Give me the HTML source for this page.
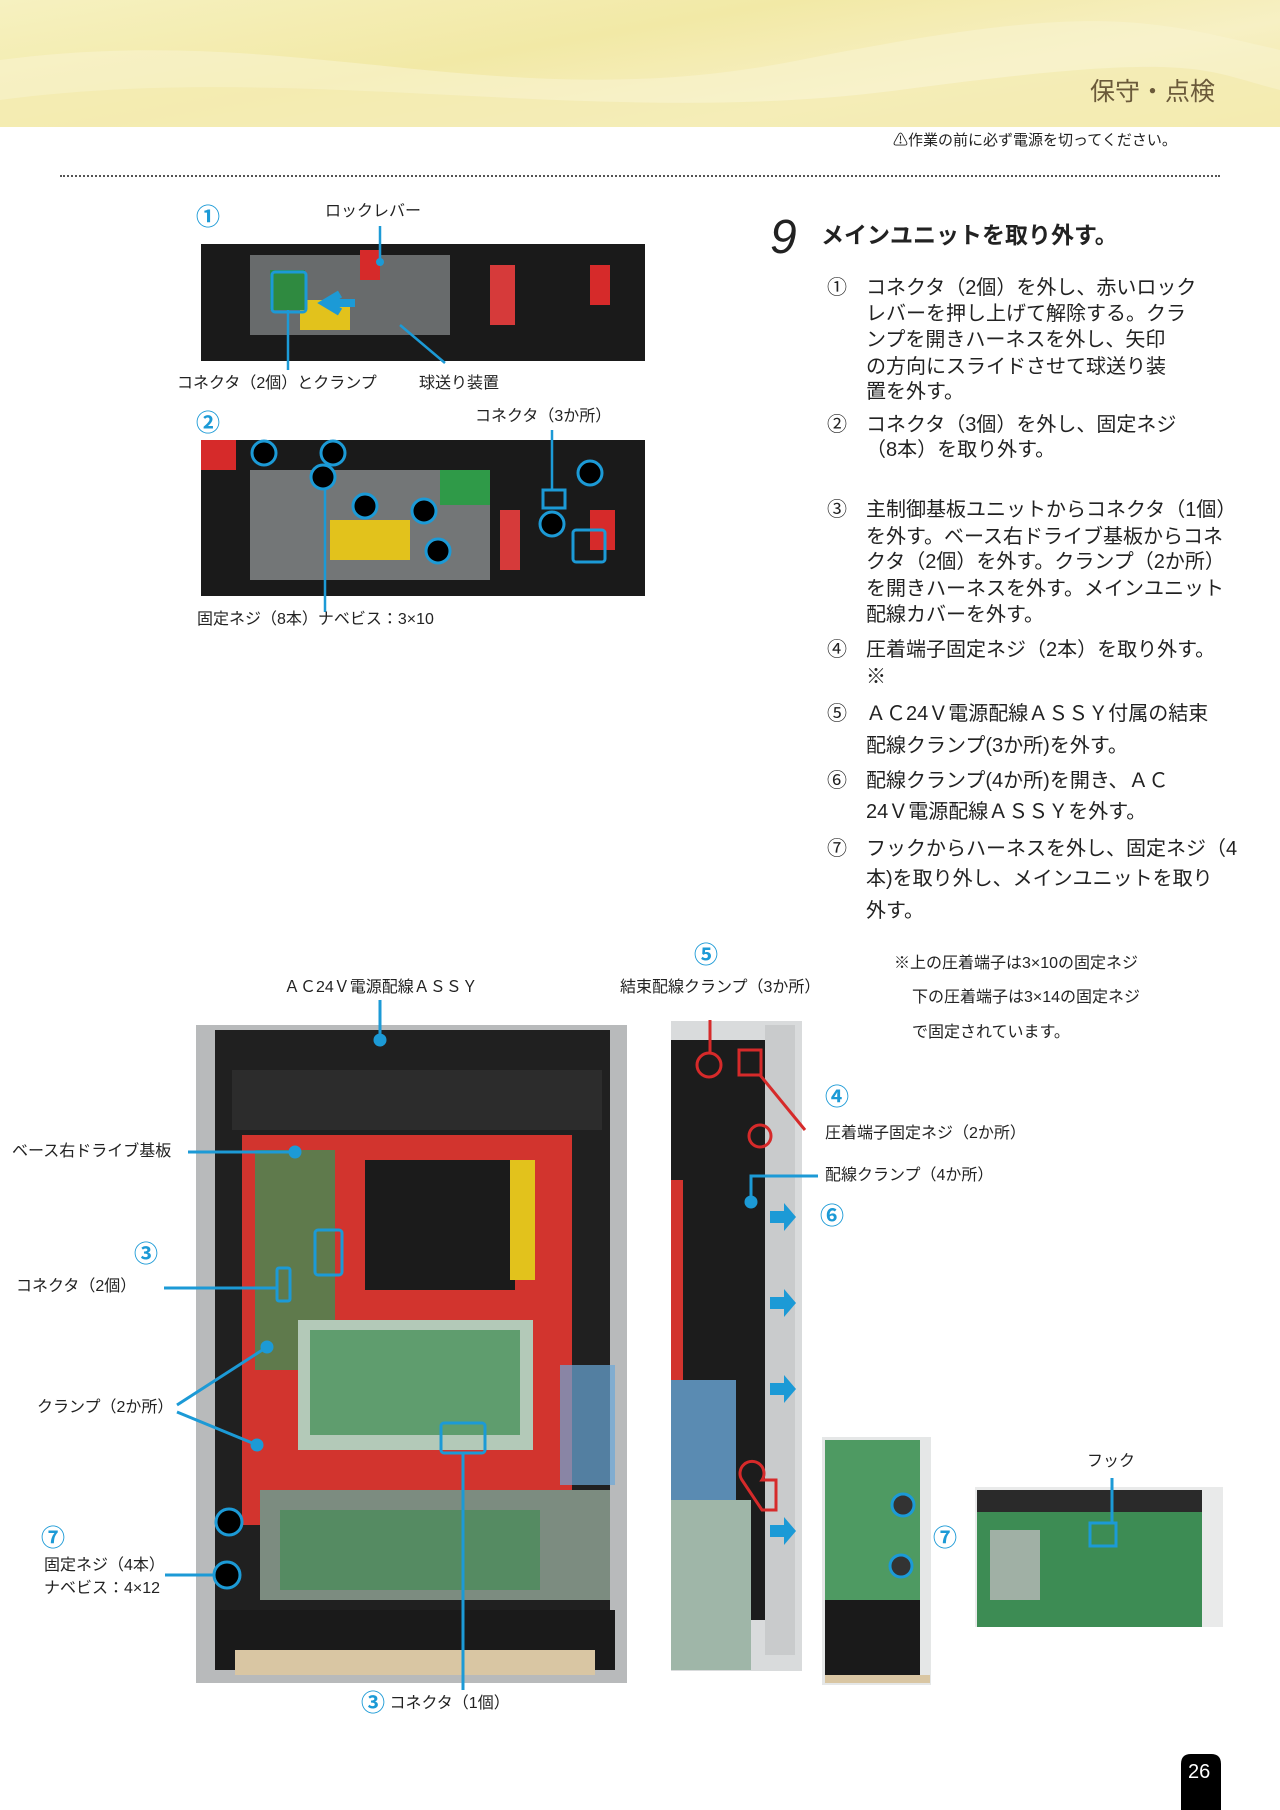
<!DOCTYPE html>
<html><head><meta charset="utf-8"><style>
body{margin:0;width:1280px;height:1810px;position:relative;background:#fff;font-family:"Liberation Sans","Noto Sans CJK JP",sans-serif;color:#222;overflow:hidden}
.a{position:absolute;white-space:nowrap;line-height:1}
.l{font-size:16px}
.t{font-size:20px;position:absolute;white-space:nowrap;line-height:1;left:866px}
.n{font-size:20px;position:absolute;line-height:1;left:827px}
.c{color:#1c9ad6;font-weight:bold;font-size:24px}
</style></head><body>
<div style="position:absolute;left:0;top:0;width:1280px;height:127px;background:linear-gradient(170deg,#f6f1c0 0%,#f2e9a6 40%,#f7f0c4 70%,#f3e8a2 100%)"></div>
<svg style="position:absolute;left:0;top:0" width="1280" height="127"><path d="M0 60 C300 20 500 120 800 60 S1150 20 1280 50 L1280 127 L0 127Z" fill="#f8f3cf" opacity=".6"/><path d="M0 100 C300 60 600 130 900 90 S1200 70 1280 90 L1280 127 L0 127Z" fill="#f1e7a3" opacity=".5"/></svg>
<div class="a" style="left:1090px;top:80px;font-size:25px;color:#6b5a3a">保守・点検</div>
<div class="a" style="left:893px;top:133px;font-size:15px"><span style="font-size:15px">⚠</span>作業の前に必ず電源を切ってください。</div>
<div style="position:absolute;left:60px;top:175px;width:1160px;border-top:2px dotted #555"></div>

<svg style="position:absolute;left:0;top:0" width="1280" height="1810">
<!-- photo1 -->
<rect x="201" y="244" width="444" height="117" fill="#1a1a1a"/>
<rect x="250" y="255" width="200" height="80" fill="#8a8f90" opacity=".7"/>
<rect x="360" y="250" width="20" height="30" fill="#d62a2a"/>
<rect x="300" y="300" width="50" height="30" fill="#e2c21c"/>
<rect x="490" y="265" width="25" height="60" fill="#d63a3a"/>
<rect x="590" y="265" width="20" height="40" fill="#d62a2a"/>
<rect x="270" y="270" width="35" height="40" fill="#2f8a40"/>
<rect x="272" y="272" width="34" height="40" fill="none" stroke="#1c9ad6" stroke-width="3" rx="3"/>
<path d="M355 303 L330 303 M340 294 L325 303 L340 312" stroke="#1c9ad6" stroke-width="8" fill="none"/>
<circle cx="380" cy="262" r="4" fill="#1c9ad6"/>
<line x1="380" y1="226" x2="380" y2="260" stroke="#1c9ad6" stroke-width="2.5"/>
<line x1="288" y1="310" x2="288" y2="370" stroke="#1c9ad6" stroke-width="2.5"/>
<line x1="400" y1="325" x2="445" y2="363" stroke="#1c9ad6" stroke-width="2.5"/>
<!-- photo2 -->
<rect x="201" y="440" width="444" height="156" fill="#1a1a1a"/>
<rect x="201" y="440" width="35" height="30" fill="#d62a2a"/>
<rect x="250" y="470" width="240" height="110" fill="#9a9e9f" opacity=".7"/>
<rect x="330" y="520" width="80" height="40" fill="#e2c21c"/>
<rect x="440" y="470" width="50" height="35" fill="#2f9a48"/>
<rect x="500" y="510" width="20" height="60" fill="#d63a3a"/>
<rect x="590" y="510" width="25" height="40" fill="#d62a2a"/>
<g fill="#000" stroke="#1c9ad6" stroke-width="3">
<circle cx="264" cy="453" r="12"/><circle cx="333" cy="453" r="12"/><circle cx="323" cy="477" r="12"/><circle cx="365" cy="506" r="12"/><circle cx="424" cy="511" r="12"/><circle cx="438" cy="551" r="12"/><circle cx="552" cy="524" r="12"/><circle cx="590" cy="473" r="12"/></g>
<rect x="543" y="490" width="22" height="18" fill="none" stroke="#1c9ad6" stroke-width="3"/>
<rect x="573" y="530" width="32" height="32" fill="none" stroke="#1c9ad6" stroke-width="3" rx="3"/>
<line x1="552" y1="430" x2="552" y2="490" stroke="#1c9ad6" stroke-width="2.5"/>
<line x1="325" y1="490" x2="325" y2="612" stroke="#1c9ad6" stroke-width="2.5"/>
<!-- main photo -->
<rect x="196" y="1025" width="431" height="658" fill="#b8babb"/>
<rect x="215" y="1030" width="395" height="640" fill="#202020"/>
<rect x="232" y="1070" width="370" height="60" fill="#2c2c2c"/>
<rect x="242" y="1135" width="330" height="390" fill="#d2342e"/>
<rect x="255" y="1150" width="80" height="220" fill="#5f7a4c"/>
<rect x="365" y="1160" width="150" height="130" fill="#1b1b1b"/>
<rect x="510" y="1160" width="25" height="120" fill="#e2c21c"/>
<rect x="298" y="1320" width="235" height="130" fill="#b3c9b8"/>
<rect x="310" y="1330" width="210" height="105" fill="#3c8a4f" opacity=".7"/>
<rect x="560" y="1365" width="55" height="120" fill="#6aa8d8" opacity=".7"/>
<rect x="260" y="1490" width="350" height="110" fill="#7c8c80"/>
<rect x="280" y="1510" width="260" height="80" fill="#3c8a4f" opacity=".6"/>
<rect x="215" y="1610" width="400" height="60" fill="#1a1a1a"/>
<rect x="235" y="1650" width="360" height="25" fill="#d9c6a3"/>
<g stroke="#1c9ad6" stroke-width="3" fill="none">
<line x1="380" y1="1000" x2="380" y2="1040"/><circle cx="380" cy="1040" r="5" fill="#1c9ad6"/>
<line x1="188" y1="1152" x2="292" y2="1152"/><circle cx="295" cy="1152" r="5" fill="#1c9ad6"/>
<rect x="315" y="1230" width="27" height="45" rx="3"/><rect x="277" y="1268" width="13" height="33" rx="2"/>
<line x1="164" y1="1288" x2="277" y2="1288"/>
<line x1="177" y1="1405" x2="267" y2="1347"/><line x1="177" y1="1412" x2="257" y2="1445"/>
<circle cx="267" cy="1347" r="5" fill="#1c9ad6"/><circle cx="257" cy="1445" r="5" fill="#1c9ad6"/>
<rect x="441" y="1423" width="44" height="30" rx="3"/><line x1="463" y1="1453" x2="463" y2="1690"/>
<circle cx="229" cy="1522" r="13" fill="#000"/><circle cx="227" cy="1575" r="13" fill="#000"/>
<line x1="165" y1="1575" x2="214" y2="1575"/>
<!-- side photo -->
</g>
<rect x="671" y="1021" width="131" height="650" fill="#d9dbdc"/>
<rect x="671" y="1040" width="95" height="580" fill="#1c1c1c"/>
<rect x="671" y="1180" width="12" height="200" fill="#d2342e"/>
<rect x="671" y="1380" width="65" height="120" fill="#6aa8d8" opacity=".8"/>
<rect x="671" y="1500" width="80" height="170" fill="#9fb6a8"/>
<rect x="765" y="1025" width="30" height="630" fill="#c9cbcc"/>
<g stroke="#d62a2a" stroke-width="3" fill="none">
<circle cx="709" cy="1065" r="12"/><rect x="739" y="1050" width="22" height="25"/><circle cx="760" cy="1136" r="11"/>
<path d="M742 1480 a12 12 0 1 1 20 0 l14 0 l0 30 l-14 0z"/>
<line x1="710" y1="1020" x2="710" y2="1053"/><line x1="760" y1="1075" x2="805" y2="1130"/></g>
<g stroke="#1c9ad6" stroke-width="3" fill="none">
<path d="M818 1176 L751 1176 L751 1200"/><circle cx="751" cy="1202" r="5" fill="#1c9ad6"/></g>
<g fill="#1c9ad6"><path d="M770 1211h14v-8l12 14l-12 14v-8h-14z"/><path d="M770 1297h14v-8l12 14l-12 14v-8h-14z"/><path d="M770 1383h14v-8l12 14l-12 14v-8h-14z"/><path d="M770 1525h14v-8l12 14l-12 14v-8h-14z"/></g>
<!-- small photo -->
<rect x="822" y="1437" width="109" height="248" fill="#e5e7e7"/>
<rect x="825" y="1440" width="95" height="160" fill="#4e9a62"/>
<rect x="825" y="1600" width="95" height="75" fill="#1a1a1a"/>
<rect x="825" y="1675" width="105" height="8" fill="#d9c6a3"/>
<g stroke="#1c9ad6" stroke-width="3" fill="#333"><circle cx="903" cy="1505" r="11"/><circle cx="901" cy="1566" r="11"/></g>
<!-- hook photo -->
<rect x="975" y="1487" width="248" height="140" fill="#e9eaea"/>
<rect x="977" y="1490" width="225" height="137" fill="#3d8c54"/>
<rect x="977" y="1490" width="225" height="22" fill="#2a2a2a"/>
<rect x="990" y="1530" width="50" height="70" fill="#b9b9b9" opacity=".8"/>
<rect x="1090" y="1523" width="26" height="23" fill="none" stroke="#1c9ad6" stroke-width="3"/>
<line x1="1112" y1="1478" x2="1112" y2="1523" stroke="#1c9ad6" stroke-width="3"/>
<path d="M1181 1810 L1181 1764 Q1181 1754 1191 1754 L1211 1754 Q1221 1754 1221 1764 L1221 1810Z" fill="#000"/>
</svg>
<div class="a" style="left:1188px;top:1762px;font-size:20px;color:#fff">26</div>

<div class="a c" style="left:196px;top:206px">①</div>
<div class="a l" style="left:325px;top:204px">ロックレバー</div>
<div class="a l" style="left:177px;top:376px">コネクタ（2個）とクランプ</div>
<div class="a l" style="left:419px;top:376px">球送り装置</div>
<div class="a c" style="left:196px;top:412px">②</div>
<div class="a l" style="left:475px;top:409px">コネクタ（3か所）</div>
<div class="a l" style="left:197px;top:612px">固定ネジ（8本）ナベビス：3×10</div>

<div class="a" style="left:770px;top:214px;font-size:48px;font-style:italic">9</div>
<div class="a" style="left:821px;top:224px;font-size:23px;font-weight:bold">メインユニットを取り外す。</div>
<div class="n" style="top:278px">①</div><div class="t" style="top:278px">コネクタ（2個）を外し、赤いロック</div>
<div class="t" style="top:304px">レバーを押し上げて解除する。クラ</div>
<div class="t" style="top:330px">ンプを開きハーネスを外し、矢印</div>
<div class="t" style="top:357px">の方向にスライドさせて球送り装</div>
<div class="t" style="top:382px">置を外す。</div>
<div class="n" style="top:415px">②</div><div class="t" style="top:415px">コネクタ（3個）を外し、固定ネジ</div>
<div class="t" style="top:440px">（8本）を取り外す。</div>
<div class="n" style="top:500px">③</div><div class="t" style="top:500px">主制御基板ユニットからコネクタ（1個）</div>
<div class="t" style="top:527px">を外す。ベース右ドライブ基板からコネ</div>
<div class="t" style="top:552px">クタ（2個）を外す。クランプ（2か所）</div>
<div class="t" style="top:579px">を開きハーネスを外す。メインユニット</div>
<div class="t" style="top:605px">配線カバーを外す。</div>
<div class="n" style="top:640px">④</div><div class="t" style="top:640px">圧着端子固定ネジ（2本）を取り外す。</div>
<div class="t" style="top:667px">※</div>
<div class="n" style="top:704px">⑤</div><div class="t" style="top:704px">ＡＣ24Ｖ電源配線ＡＳＳＹ付属の結束</div>
<div class="t" style="top:736px">配線クランプ(3か所)を外す。</div>
<div class="n" style="top:771px">⑥</div><div class="t" style="top:771px">配線クランプ(4か所)を開き、ＡＣ</div>
<div class="t" style="top:802px">24Ｖ電源配線ＡＳＳＹを外す。</div>
<div class="n" style="top:839px">⑦</div><div class="t" style="top:839px">フックからハーネスを外し、固定ネジ（4</div>
<div class="t" style="top:869px">本)を取り外し、メインユニットを取り</div>
<div class="t" style="top:901px">外す。</div>

<div class="a c" style="left:694px;top:944px">⑤</div>
<div class="a l" style="left:284px;top:980px">ＡＣ24Ｖ電源配線ＡＳＳＹ</div>
<div class="a l" style="left:620px;top:980px">結束配線クランプ（3か所）</div>
<div class="a l" style="left:894px;top:956px">※上の圧着端子は3×10の固定ネジ</div>
<div class="a l" style="left:912px;top:990px">下の圧着端子は3×14の固定ネジ</div>
<div class="a l" style="left:912px;top:1025px">で固定されています。</div>
<div class="a c" style="left:825px;top:1086px">④</div>
<div class="a l" style="left:825px;top:1126px">圧着端子固定ネジ（2か所）</div>
<div class="a l" style="left:825px;top:1168px">配線クランプ（4か所）</div>
<div class="a c" style="left:820px;top:1205px">⑥</div>
<div class="a l" style="left:12px;top:1144px">ベース右ドライブ基板</div>
<div class="a c" style="left:134px;top:1243px">③</div>
<div class="a l" style="left:16px;top:1279px">コネクタ（2個）</div>
<div class="a l" style="left:37px;top:1400px">クランプ（2か所）</div>
<div class="a c" style="left:41px;top:1527px">⑦</div>
<div class="a l" style="left:44px;top:1558px">固定ネジ（4本）</div>
<div class="a l" style="left:44px;top:1581px">ナベビス：4×12</div>
<div class="a" style="left:361px;top:1692px;font-size:16px"><span class="c" style="font-size:24px;vertical-align:middle">③</span> コネクタ（1個）</div>
<div class="a c" style="left:933px;top:1527px">⑦</div>
<div class="a l" style="left:1087px;top:1454px">フック</div>
</body></html>
